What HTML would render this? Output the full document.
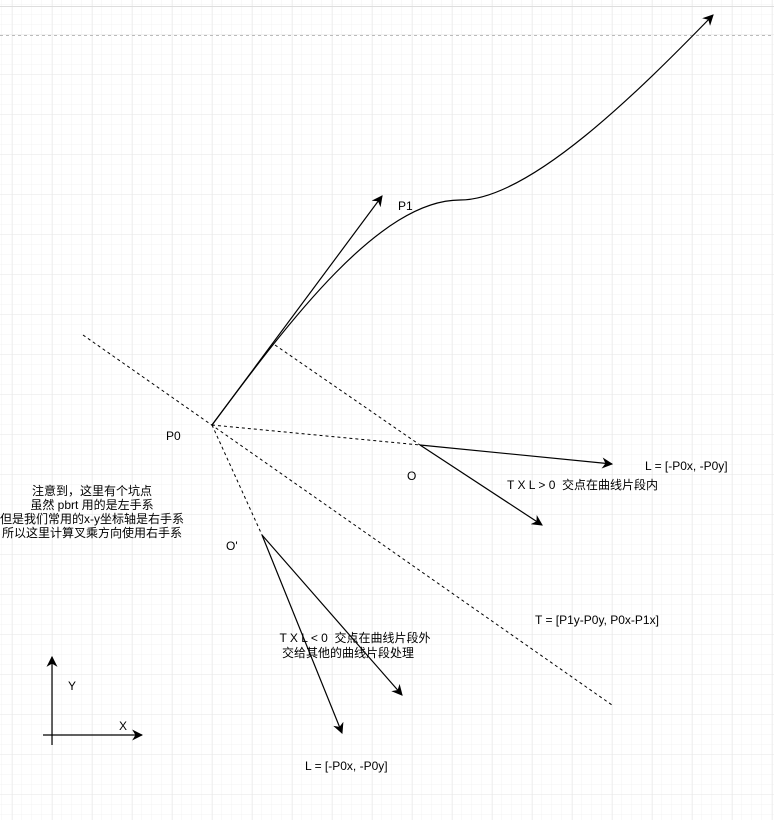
<!DOCTYPE html>
<html><head><meta charset="utf-8"><style>
html,body{margin:0;padding:0;background:#fff}
svg{display:block}
text{font-family:"Liberation Sans","Noto Sans CJK SC",sans-serif;font-size:12px;fill:#000;white-space:pre}
</style></head><body>
<svg width="774" height="820" viewBox="0 0 774 820" xmlns="http://www.w3.org/2000/svg">
<defs>
<pattern id="minor" width="10" height="10" patternUnits="userSpaceOnUse" x="2" y="5">
<path d="M10 0V10M0 10H10" fill="none" stroke="#f3f3f3" stroke-width="1"/>
</pattern>
<pattern id="major" width="40" height="40" patternUnits="userSpaceOnUse" x="12.5" y="-5.5">
<path d="M0 0V40M0 0H40" fill="none" stroke="#e6e6e6" stroke-width="1"/>
</pattern>
<marker id="ah" viewBox="0 0 10 10" refX="9" refY="5" markerWidth="11" markerHeight="11" markerUnits="userSpaceOnUse" orient="auto">
<path d="M0 0L10 5L0 10L3 5Z" fill="#000"/>
</marker>
</defs>
<rect width="774" height="820" fill="url(#minor)"/>
<rect width="774" height="820" fill="url(#major)"/>
<line x1="0" y1="6.5" x2="774" y2="6.5" stroke="#ddd"/>
<line x1="0" y1="35.5" x2="774" y2="35.5" stroke="#bbb" stroke-dasharray="3 3"/>
<g fill="none" stroke="#000" stroke-width="1.2">
<path d="M212 425C290 320 380 200 460 200C530 200 640 90 713 15" marker-end="url(#ah)"/>
<line x1="212" y1="425" x2="382" y2="196" marker-end="url(#ah)"/>
<line x1="420" y1="445" x2="612" y2="464" marker-end="url(#ah)"/>
<line x1="420" y1="445" x2="542" y2="525" marker-end="url(#ah)"/>
<line x1="262" y1="535" x2="342" y2="733" marker-end="url(#ah)"/>
<line x1="262" y1="535" x2="402" y2="695" marker-end="url(#ah)"/>
<line x1="52" y1="745" x2="52" y2="657" marker-end="url(#ah)"/>
<line x1="43" y1="735" x2="142" y2="735" marker-end="url(#ah)"/>
</g>
<g fill="none" stroke="#000" stroke-width="1" stroke-dasharray="3 3">
<line x1="83" y1="335" x2="612" y2="705"/>
<line x1="275" y1="345" x2="420" y2="445"/>
<line x1="212" y1="425" x2="420" y2="445"/>
<line x1="212" y1="425" x2="262" y2="535"/>
</g>
<text x="398" y="210">P1</text>
<text x="166" y="440">P0</text>
<text x="407" y="480">O</text>
<text x="226" y="550">O'</text>
<text x="645" y="470">L = [-P0x, -P0y]</text>
<text x="507" y="489">T X L &gt; 0&#160;&#160;交点在曲线片段内</text>
<text x="535" y="624">T = [P1y-P0y, P0x-P1x]</text>
<text x="355" y="642" text-anchor="middle">T X L &lt; 0&#160;&#160;交点在曲线片段外</text>
<text x="348" y="657" text-anchor="middle">交给其他的曲线片段处理</text>
<text x="305" y="770">L = [-P0x, -P0y]</text>
<text x="68" y="690">Y</text>
<text x="119" y="730">X</text>
<g text-anchor="middle">
<text x="92" y="495">注意到，这里有个坑点</text>
<text x="92" y="509">虽然 pbrt 用的是左手系</text>
<text x="92" y="523">但是我们常用的x-y坐标轴是右手系</text>
<text x="92" y="537">所以这里计算叉乘方向使用右手系</text>
</g>
</svg>
</body></html>
